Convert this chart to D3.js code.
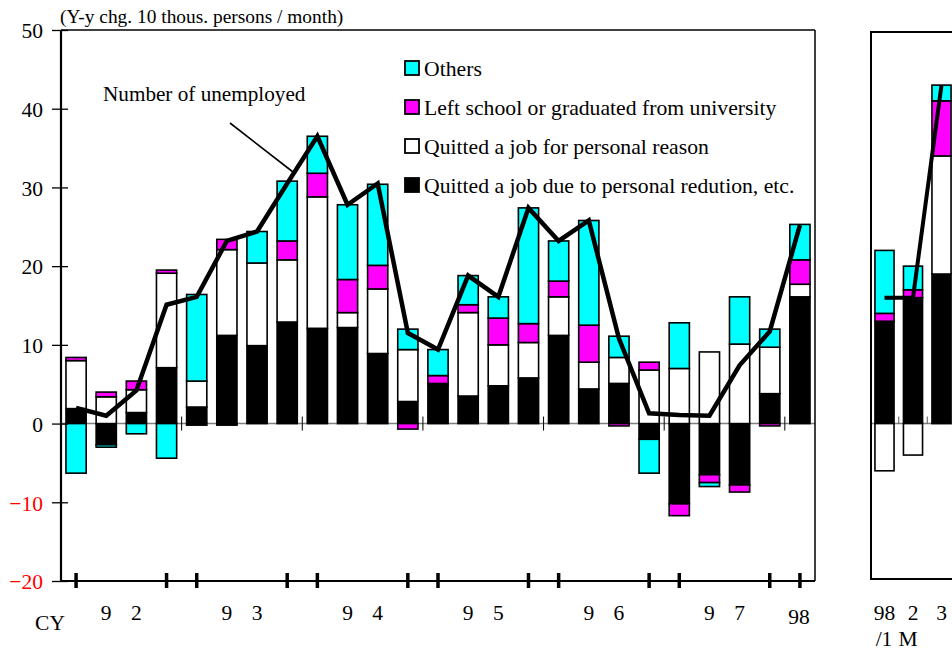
<!DOCTYPE html>
<html><head><meta charset="utf-8">
<script src="https://cdn.jsdelivr.net/npm/d3@7"></script>
<style>body{margin:0;background:#fff}svg{display:block}text{font-family:"Liberation Serif","Times New Roman",serif}</style>
</head><body>
<script>
// ---- data ----
const quarters = ['92Q1','92Q2','92Q3','92Q4','93Q1','93Q2','93Q3','93Q4','94Q1','94Q2','94Q3','94Q4',
  '95Q1','95Q2','95Q3','95Q4','96Q1','96Q2','96Q3','96Q4','97Q1','97Q2','97Q3','97Q4','98Q1'];
const reduction = [1.9,-2.7,1.4,7.1,2.1,11.2,9.9,12.9,12.1,12.2,8.9,2.8,4.9,3.5,4.8,5.8,11.2,4.4,5.1,-2.0,-10.2,-6.5,-7.8,3.8,16.1];
const personal  = [6.1,3.4,2.9,12.0,3.3,10.9,10.5,7.9,16.7,1.9,8.2,6.6,0.2,10.6,5.2,4.5,4.9,3.4,3.3,6.8,7.0,9.1,10.1,5.9,1.6];
const school    = [0.4,0.6,1.1,0.4,-0.2,1.3,0,2.4,3.0,4.2,3.0,-0.7,1.0,1.0,3.4,2.4,2.0,4.7,-0.3,1.0,-1.5,-1.0,-0.9,-0.3,3.1];
const others    = [-6.3,-0.3,-1.3,-4.4,11.0,-0.2,4.0,7.6,4.7,9.5,10.3,2.6,3.3,3.7,2.7,14.7,5.1,13.3,2.7,-4.3,5.8,-0.5,6.0,2.3,4.5];
const unemployed = [2.0,1.0,4.2,15.1,16.1,23.2,24.4,30.5,36.5,27.8,30.5,11.5,9.4,18.8,16.1,27.4,23.2,25.8,10.8,1.3,1.1,1.0,7.4,11.7,25.2];

const months = ['98/1','98/2','98/3'];
const mReduction = [13,16,19];
const mPersonal  = [-6,-4,15];
const mSchool    = [1,1,7];
const mOthers    = [8,3,2];
const mUnemployed = [16,16,43];

const yTicks = [-20,-10,0,10,20,30,40,50];
const years = ['92','93','94','95','96','97'];
const monthLabels = ['98','2','3'];
const monthSub = ['/1','M'];

const seriesKeys = ['reduction','personal','school','others'];
const seriesNames = {
  others:'Others',
  school:'Left school or graduated from university',
  personal:'Quitted a job for personal reason',
  reduction:'Quitted a job due to personal redution, etc.'
};
const colors = {reduction:'#000000', personal:'#ffffff', school:'#ff00ff', others:'#00ffff'};
const legendOrder = ['others','school','personal','reduction'];

// ---- chart ----
const W = 952, H = 652;
const svg = d3.select('body').append('svg').attr('width', W).attr('height', H);

const L = 61, R = 815, T = 30, B = 581;
const x = d3.scaleBand().domain(quarters).range([L, R]).paddingInner(0.33).paddingOuter(0.165);
const y = d3.scaleLinear().domain([-20, 50]).range([B, T]);

const rows = quarters.map((q, i) => ({key: q, reduction: reduction[i], personal: personal[i], school: school[i], others: others[i]}));
const stack = d3.stack().keys(seriesKeys).offset(d3.stackOffsetDiverging);
const stacked = stack(rows);

// zero line
svg.append('line').attr('x1', L).attr('x2', R).attr('y1', y(0)).attr('y2', y(0))
  .attr('stroke', '#808080').attr('stroke-width', 1.5);

// year boundary small ticks on zero line
const bw = x.bandwidth(), step = x.step();
quarters.forEach((q, i) => {
  if (i > 0 && q.endsWith('Q1')) {
    const xb = x(q) - (step - bw) / 2;
    svg.append('line').attr('x1', xb).attr('x2', xb).attr('y1', y(0) - 7).attr('y2', y(0) + 7)
      .attr('stroke', '#000').attr('stroke-width', 1);
  }
});

// bars
const g = svg.append('g');
stacked.forEach(s => {
  g.selectAll(null).data(s.filter(d => d[1] !== d[0])).enter().append('rect')
    .attr('x', d => x(d.data.key))
    .attr('width', bw)
    .attr('y', d => y(Math.max(d[0], d[1])))
    .attr('height', d => Math.abs(y(d[0]) - y(d[1])))
    .attr('fill', colors[s.key])
    .attr('stroke', '#000').attr('stroke-width', 1.6);
});

// line
const line = d3.line().x((d, i) => x(quarters[i]) + bw / 2).y(d => y(d));
svg.append('path').datum(unemployed).attr('d', line).attr('fill', 'none')
  .attr('stroke', '#000').attr('stroke-width', 4.5).attr('stroke-linejoin', 'miter');

// frame
svg.append('line').attr('x1', L).attr('x2', R).attr('y1', T).attr('y2', T).attr('stroke', '#000').attr('stroke-width', 1.5);
svg.append('line').attr('x1', R).attr('x2', R).attr('y1', T).attr('y2', B).attr('stroke', '#000').attr('stroke-width', 1.5);

// y axis
const yAxis = d3.axisLeft(y).tickValues(yTicks).tickSize(9).tickPadding(9).tickFormat(d3.format('d'));
const ya = svg.append('g').attr('transform', `translate(${L},0)`).call(yAxis);
ya.select('.domain').attr('stroke', '#000').attr('stroke-width', 2.2).attr('d', `M0,${T}V${B}`);
ya.selectAll('.tick line').attr('x1', 7).attr('x2', -9).attr('stroke', '#000').attr('stroke-width', 1.3);
ya.selectAll('.tick text').attr('x', -18).attr('dy', '0.36em')
  .style('font-family', '"Liberation Serif", serif').style('font-size', '21.5px')
  .attr('fill', d => d < 0 ? '#ff0000' : '#000');

// bottom axis
svg.append('line').attr('x1', L).attr('x2', R).attr('y1', B).attr('y2', B).attr('stroke', '#000').attr('stroke-width', 2.2);
quarters.forEach(q => {
  if (q.endsWith('Q1') || q.endsWith('Q4')) {
    const xc = x(q) + bw / 2;
    svg.append('line').attr('x1', xc).attr('x2', xc).attr('y1', B - 8).attr('y2', B + 7)
      .attr('stroke', '#000').attr('stroke-width', 3.5);
  }
});
// x labels
const lab = svg.append('g').style('font-size', '21.5px').attr('text-anchor', 'middle').attr('fill', '#000');
lab.append('text').attr('x', 50).attr('y', 630).text('CY');
years.forEach(yr => {
  lab.append('text').attr('x', x(yr + 'Q2') + bw / 2).attr('y', 620).text(yr[0]);
  lab.append('text').attr('x', x(yr + 'Q3') + bw / 2).attr('y', 620).text(yr[1]);
});
lab.append('text').attr('x', x('98Q1') + bw / 2 - 1).attr('y', 624).text('98');

// title
svg.append('text').attr('x', 60).attr('y', 23).style('font-size', '19.4px').text('(Y-y chg. 10 thous. persons / month)');

// annotation
svg.append('text').attr('x', 103).attr('y', 101).style('font-size', '21.2px').text('Number of unemployed');
svg.append('line').attr('x1', 230).attr('y1', 123).attr('x2', 293).attr('y2', 172).attr('stroke', '#000').attr('stroke-width', 1.6);

// legend
const lg = svg.append('g');
legendOrder.forEach((k, i) => {
  const cy = 68 + i * 39;
  lg.append('rect').attr('x', 405).attr('y', cy - 7).attr('width', 14).attr('height', 14)
    .attr('fill', colors[k]).attr('stroke', '#000').attr('stroke-width', 1.8);
  lg.append('text').attr('x', 424).attr('y', cy + 7.5).style('font-size', '21.7px').text(seriesNames[k]);
});

// ---- right panel (monthly) ----
const xm = d3.scaleBand().domain(months).range([870.25, 955.75]).paddingInner(0.33).paddingOuter(0.165);
const mRows = months.map((m, i) => ({key: m, reduction: mReduction[i], personal: mPersonal[i], school: mSchool[i], others: mOthers[i]}));
const mStacked = stack(mRows);
const mbw = xm.bandwidth(), mstep = xm.step();

svg.append('line').attr('x1', 871).attr('x2', 960).attr('y1', y(0)).attr('y2', y(0)).attr('stroke', '#808080').attr('stroke-width', 1.5);
months.forEach((m, i) => {
  if (i > 0) {
    const xb = xm(m) - (mstep - mbw) / 2;
    svg.append('line').attr('x1', xb).attr('x2', xb).attr('y1', y(0) - 7).attr('y2', y(0))
      .attr('stroke', '#555').attr('stroke-width', 1);
  }
});
const gm = svg.append('g');
mStacked.forEach(s => {
  gm.selectAll(null).data(s.filter(d => d[1] !== d[0])).enter().append('rect')
    .attr('x', d => xm(d.data.key))
    .attr('width', mbw)
    .attr('y', d => y(Math.max(d[0], d[1])))
    .attr('height', d => Math.abs(y(d[0]) - y(d[1])))
    .attr('fill', colors[s.key])
    .attr('stroke', '#000').attr('stroke-width', 1.6);
});
const mline = d3.line().x((d, i) => xm(months[i]) + mbw / 2).y(d => y(d));
svg.append('path').datum(mUnemployed).attr('d', mline).attr('fill', 'none')
  .attr('stroke', '#000').attr('stroke-width', 4);
svg.append('rect').attr('x', 871).attr('y', 32).attr('width', 100).attr('height', 547)
  .attr('fill', 'none').attr('stroke', '#000').attr('stroke-width', 2);
const ml = svg.append('g').style('font-size', '21.5px').attr('text-anchor', 'middle');
monthLabels.forEach((t, i) => {
  ml.append('text').attr('x', xm(months[i]) + mbw / 2).attr('y', 620).text(t);
});
ml.append('text').attr('x', 884).attr('y', 646).text(monthSub[0]);
ml.append('text').attr('x', 908).attr('y', 646).text(monthSub[1]);
</script>
</body></html>
